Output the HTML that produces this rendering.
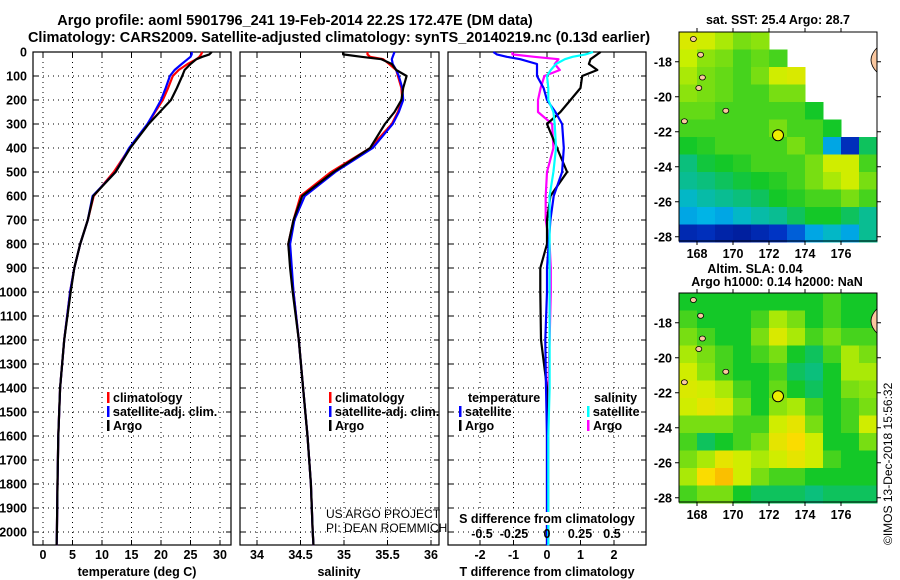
<!DOCTYPE html>
<html><head><meta charset="utf-8"><style>
html,body{margin:0;padding:0;background:#fff;}
svg{display:block;font-family:"Liberation Sans",sans-serif;}
.b{font-weight:bold;font-size:14.5px;}
.t{font-weight:bold;font-size:12.5px;}
</style></head><body>
<svg id="c" width="900" height="580" viewBox="0 0 900 580"></svg>
<script>
// ---- data ----
const depths=[0,10,20,30,50,75,100,150,200,250,300,400,500,600,700,800,900,1000,1200,1400,1600,1800,2000,2055];
const climT=[27.0,26.8,26.5,26.0,24.5,23.0,22.0,21.2,20.3,19.0,17.8,14.7,12.0,8.6,7.6,6.3,5.3,4.6,3.6,2.9,2.6,2.45,2.35,2.3];
const satT=[25.2,25.2,25.0,24.5,23.5,22.3,21.5,20.8,20.0,18.9,17.7,14.6,12.3,8.4,7.6,6.3,5.3,4.6,3.6,2.9,2.6,2.45,2.35,2.3];
const argoT=[28.6,28.2,27.0,26.0,25.0,24.0,23.6,22.7,21.7,19.8,17.9,14.8,12.3,8.5,7.6,6.3,5.3,4.7,3.6,2.9,2.6,2.45,2.35,2.3];
const climS=[35.27,35.27,35.3,35.45,35.52,35.6,35.62,35.66,35.67,35.62,35.55,35.3,34.85,34.5,34.42,34.36,34.39,34.42,34.48,34.53,34.58,34.62,34.64,34.65];
const satS=[35.58,35.57,35.56,35.55,35.56,35.6,35.63,35.67,35.68,35.63,35.56,35.33,34.9,34.55,34.43,34.38,34.4,34.42,34.48,34.53,34.58,34.62,34.64,34.65];
const argoS=[34.99,34.99,35.2,35.43,35.55,35.6,35.72,35.68,35.66,35.58,35.47,35.3,34.88,34.52,34.42,34.36,34.38,34.41,34.48,34.53,34.58,34.62,34.64,34.65];
const dTsat=[-1.6,-1.5,-1.2,-0.8,-0.3,-0.3,-0.3,-0.1,0.0,0.25,0.45,0.5,0.45,0.2,0.1,0.05,0.0,0.0,-0.05,-0.03,0.0,0.0,0.0,0.0];
const dTargo=[1.6,1.5,1.4,1.3,1.25,1.5,1.05,1.0,0.7,0.4,0.0,0.3,0.6,0.1,0.0,0.0,-0.2,-0.2,-0.18,0.0,0.0,0.0,0.0,0.0];
const dSsat=[0.36,0.3,0.2,0.14,0.07,0.03,0.0,0.01,0.01,0.05,0.06,0.07,0.05,0.02,0.02,0.02,0.02,0.02,0.02,0.02,0.01,0.01,0.01,0.01];
const dSargo=[-0.27,-0.27,-0.1,0.09,0.06,0.1,-0.02,-0.05,-0.07,-0.07,0.04,0.05,0.0,-0.01,-0.01,0.02,0.03,0.03,0.02,0.01,0.01,0.01,0.01,0.01];
const depthTicks=[0,100,200,300,400,500,600,700,800,900,1000,1100,1200,1300,1400,1500,1600,1700,1800,1900,2000];
const tTicks=[0,5,10,15,20,25,30];
const sTicks=[34,34.5,35,35.5,36];
const dtTicks=[-2,-1,0,1,2];
const dsTicks=[-0.5,-0.25,0,0.25,0.5];
const dsLabels=["-0.5","-0.25","0","0.25","0.5"];
const lonTicks=[168,170,172,174,176];
const latTicks=[-18,-20,-22,-24,-26,-28];
const sstGrid=[
[.72,.7,.65,.6,.62,-1,-1,-1,-1,-1,-1],
[.68,.62,.6,.55,.58,.55,-1,-1,-1,-1,-1],
[.65,.6,.58,.55,.6,.7,.72,-1,-1,-1,-1],
[.62,.6,.58,.55,.55,.6,.6,-1,-1,-1,-1],
[.58,.58,.55,.55,.55,.55,.55,.5,-1,-1,-1],
[.55,.55,.55,.55,.55,.6,.55,.55,.5,-1,-1],
[.5,.52,.55,.55,.55,.55,.6,.55,.3,.1,.45],
[.42,.48,.5,.52,.55,.55,.55,.6,.7,.7,.55],
[.4,.42,.45,.48,.5,.52,.55,.6,.65,.7,.6],
[.35,.38,.4,.42,.45,.5,.52,.55,.55,.6,.55],
[.3,.32,.3,.35,.38,.4,.45,.5,.5,.45,.4],
[.08,.1,.06,.04,.08,.12,.2,.3,.35,.3,.4]];
const slaGrid=[
[.5,.5,.5,.5,.5,.5,.5,.5,.55,.5,.5],
[.55,.5,.5,.5,.55,.65,.6,.5,.55,.5,.5],
[.6,.55,.5,.5,.6,.72,.65,.55,.6,.55,.55],
[.65,.6,.55,.5,.55,.6,.5,.45,.55,.65,.6],
[.7,.62,.55,.5,.5,.55,.45,.42,.5,.65,.65],
[.72,.7,.65,.55,.5,.58,.5,.45,.5,.6,.62],
[.7,.75,.72,.6,.5,.62,.65,.55,.5,.55,.6],
[.6,.6,.6,.55,.55,.7,.75,.6,.5,.55,.7],
[.55,.45,.5,.55,.6,.75,.8,.7,.5,.5,.6],
[.6,.65,.75,.7,.65,.7,.75,.7,.55,.5,.5],
[.65,.8,.85,.7,.6,.55,.55,.5,.5,.5,.5],
[.55,.6,.6,.5,.45,.45,.45,.42,.45,.45,.45]];
const floatLon=172.5, floatLat=-22.2;

// ---- helpers ----
const NS="http://www.w3.org/2000/svg";
const svg=document.getElementById('c');
function el(tag,attrs,parent,text){const e=document.createElementNS(NS,tag);for(const k in attrs)e.setAttribute(k,attrs[k]);if(text!==undefined)e.textContent=text;(parent||svg).appendChild(e);return e;}
const Y0=52,YB=545;
const yD=d=>Y0+d*0.24;
const panels=[
 {x0:33,x1:231,f:v=>43+v*5.9,name:'temperature'},
 {x0:240,x1:439,f:v=>257+(v-34)*87,name:'salinity'},
 {x0:448,x1:646,f:v=>547+v*33.5,name:'difference'}];
const fS=v=>547+v*128;

// titles
let t=el('text',{x:295,y:25,'text-anchor':'middle','class':'b'},svg,'Argo profile: aoml 5901796_241 19-Feb-2014 22.2S 172.47E (DM data)');


t=el('text',{x:339,y:42,'text-anchor':'middle','class':'b'},svg,'Climatology: CARS2009. Satellite-adjusted climatology: synTS_20140219.nc (0.13d earlier)');



// depth tick labels
depthTicks.forEach(d=>{const e=el('text',{x:27,y:yD(d)+4.5,'text-anchor':'end','class':'t'},svg,String(d));

});

function grid(p,xticks,xf){
 const g=el('g',{});
 
 
 depthTicks.forEach(d=>{el('line',{x1:p.x0,x2:p.x1,y1:yD(d),y2:yD(d),stroke:'#000','stroke-width':1,'stroke-dasharray':'1,4'},g);
  el('line',{x1:p.x0,x2:p.x0+5,y1:yD(d),y2:yD(d),stroke:'#000'},g);el('line',{x1:p.x1-5,x2:p.x1,y1:yD(d),y2:yD(d),stroke:'#000'},g);});
 xticks.forEach(v=>{const x=xf(v);el('line',{x1:x,x2:x,y1:Y0,y2:YB,stroke:'#000','stroke-dasharray':'1,4'},g);
  el('line',{x1:x,x2:x,y1:Y0,y2:Y0+5,stroke:'#000'},g);el('line',{x1:x,x2:x,y1:YB-5,y2:YB,stroke:'#000'},g);});
 el('rect',{x:p.x0,y:Y0,width:p.x1-p.x0,height:YB-Y0,fill:'none',stroke:'#000','stroke-width':1.2},g);
 return g;
}
function line(g,vals,xf,color,name){
 const pts=vals.map((v,i)=>xf(v).toFixed(1)+','+yD(depths[i]).toFixed(1)).join(' ');
 const e=el('polyline',{points:pts,fill:'none',stroke:color,'stroke-width':2.2,'stroke-linejoin':'round'},g);
 
 
}
function legend(g,x,y,color,label,name){
 el('rect',{x:x,y:y-10,width:2.5,height:11,fill:color},g);
 const e=el('text',{x:x+6,y:y,'class':'t'},g,label);
 
 
}
// panel 1
let g1=grid(panels[0],tTicks,panels[0].f);
line(g1,climT,panels[0].f,'#f00','climatology-temperature-line');
line(g1,satT,panels[0].f,'#00f','satellite-temperature-line');
line(g1,argoT,panels[0].f,'#000','argo-temperature-line');
tTicks.forEach(v=>el('text',{x:panels[0].f(v),y:559,'text-anchor':'middle','class':'t'},g1,String(v)));
t=el('text',{x:137,y:576,'text-anchor':'middle','class':'t'},g1,'temperature (deg C)');


legend(g1,107,402,'#f00','climatology','legend-climatology');
legend(g1,107,416,'#00f','satellite-adj. clim.','legend-satellite');
legend(g1,107,430,'#000','Argo','legend-argo');
// panel 2
let g2=grid(panels[1],sTicks,panels[1].f);
line(g2,climS,panels[1].f,'#f00','climatology-salinity-line');
line(g2,satS,panels[1].f,'#00f','satellite-salinity-line');
line(g2,argoS,panels[1].f,'#000','argo-salinity-line');
sTicks.forEach(v=>el('text',{x:panels[1].f(v),y:559,'text-anchor':'middle','class':'t'},g2,String(v)));
t=el('text',{x:339,y:576,'text-anchor':'middle','class':'t'},g2,'salinity');


legend(g2,329,402,'#f00','climatology','legend-climatology');
legend(g2,329,416,'#00f','satellite-adj. clim.','legend-satellite');
legend(g2,329,430,'#000','Argo','legend-argo');
t=el('text',{x:326,y:518,'font-size':12},g2,'US ARGO PROJECT');


t=el('text',{x:326,y:532,'font-size':12},g2,'PI: DEAN ROEMMICH');


// panel 3
let g3=grid(panels[2],dtTicks,panels[2].f);
line(g3,dSargo,fS,'#f0f','argo-salinity-diff-line');
line(g3,dTargo,panels[2].f,'#000','argo-temperature-diff-line');
line(g3,dTsat,panels[2].f,'#00f','satellite-temperature-diff-line');
line(g3,dSsat,fS,'#0ff','satellite-salinity-diff-line');
dtTicks.forEach(v=>el('text',{x:panels[2].f(v),y:559,'text-anchor':'middle','class':'t'},g3,String(v)));
dsTicks.forEach((v,i)=>el('text',{x:[482,514,547,580,612][i],y:538,'text-anchor':'middle','class':'t'},g3,dsLabels[i]));
el('rect',{x:455,y:512,width:184,height:13,fill:'#fff'},g3);
t=el('text',{x:547,y:523,'text-anchor':'middle','class':'t'},g3,'S difference from climatology');


t=el('text',{x:547,y:576,'text-anchor':'middle','class':'t'},g3,'T difference from climatology');


el('text',{x:468,y:402,'class':'t'},g3,'temperature');
legend(g3,459,416,'#00f','satellite','legend-t-satellite');
legend(g3,459,430,'#000','Argo','legend-t-argo');
el('text',{x:594,y:402,'class':'t'},g3,'salinity');
legend(g3,587,416,'#0ff','satellite','legend-s-satellite');
legend(g3,587,430,'#f0f','Argo','legend-s-argo');

// ---- maps ----
function cmap(v){
 const stops=[[0,[0,20,140]],[0.15,[0,60,210]],[0.32,[0,180,230]],[0.5,[20,200,40]],[0.68,[200,240,0]],[0.8,[250,220,0]],[0.92,[250,150,0]]];
 for(let i=1;i<stops.length;i++){if(v<=stops[i][0]){const a=stops[i-1],b=stops[i];const f=(v-a[0])/(b[0]-a[0]);return 'rgb('+a[1].map((c,k)=>Math.round(c+(b[1][k]-c)*f)).join(',')+')';}}
 return 'rgb(250,150,0)';
}
function map(x0,y0,w,h,latTop,gridv,name){
 const g=el('g',{});
 
 
 const lx=lon=>x0+(lon-167)*w/11;
 const ly=lat=>y0+(latTop-lat)*17.5;
 gridv.forEach((row,r)=>row.forEach((v,c)=>{
  if(v<0)return;
  const cell=el('rect',{x:lx(167+c),y:ly(latTop-r),width:w/11+0.5,height:17.5+0.5,fill:cmap(v)},g);
  
  
 }));
 [[167.8,-16.7],[168.2,-17.6],[168.3,-18.9],[169.6,-20.8],[167.3,-21.4],[168.1,-19.5]].forEach(p=>
  el('ellipse',{cx:lx(p[0]),cy:ly(p[1]),rx:3,ry:2.5,fill:'#fac8a0',stroke:'#000','stroke-width':0.8},g));
 el('path',{d:`M${x0+w} ${ly(-17.2)} Q${x0+w-12} ${ly(-17.9)} ${x0+w} ${ly(-18.6)} Z`,fill:'#fac8a0',stroke:'#000','stroke-width':0.8},g);
 const m=el('circle',{cx:lx(floatLon),cy:ly(floatLat),r:5.5,fill:'#ee0',stroke:'#000','stroke-width':1},g);
 
 
 el('rect',{x:x0,y:y0,width:w,height:h,fill:'none',stroke:'#000'},g);
 lonTicks.forEach(v=>{el('line',{x1:lx(v),x2:lx(v),y1:y0+h,y2:y0+h+4,stroke:'#000'},g);el('line',{x1:lx(v),x2:lx(v),y1:y0,y2:y0-4,stroke:'#000'},g);
  el('text',{x:lx(v),y:y0+h+17,'text-anchor':'middle','class':'t'},g,String(v));});
 latTicks.forEach(v=>{el('line',{x1:x0-4,x2:x0,y1:ly(v),y2:ly(v),stroke:'#000'},g);el('line',{x1:x0+w,x2:x0+w+4,y1:ly(v),y2:ly(v),stroke:'#000'},g);
  el('text',{x:x0-7,y:ly(v)+4.5,'text-anchor':'end','class':'t'},g,String(v));});
}
el('rect',{x:679,y:32,width:198,height:209,fill:'#fff'});
map(679,32,198,209,-16.3,sstGrid,'sst-map');
map(679,293,198,209,-16.3,slaGrid,'sla-map');
t=el('text',{x:778,y:24,'text-anchor':'middle','class':'t'},svg,'sat. SST: 25.4 Argo: 28.7');


t=el('text',{x:755,y:273,'text-anchor':'middle','class':'t'},svg,'Altim. SLA: 0.04');


t=el('text',{x:777,y:286,'text-anchor':'middle','class':'t'},svg,'Argo h1000: 0.14 h2000: NaN');


t=el('text',{x:0,y:0,'font-size':12,transform:'translate(892,545) rotate(-90)'},svg,'©IMOS 13-Dec-2018 15:56:32');


</script>
</body></html>
